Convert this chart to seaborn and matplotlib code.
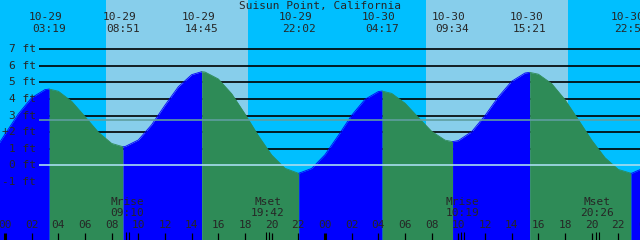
import numpy as np
import pandas as pd
import matplotlib
matplotlib.use("Agg")
import matplotlib.pyplot as plt
import seaborn as sns

# ---------------- data ----------------
title = "Suisun Point, California"

# tide curve (hours from 10-29 00:00, height in ft)
curve_hours = [-0.5, 0, 1, 2, 3, 3.317, 4, 5, 6, 7, 8, 8.85, 9, 10, 11, 12, 13, 14,
               14.75, 15, 16, 17, 18, 19, 20, 21, 22, 22.033, 23, 24, 25, 26, 27, 28,
               28.283, 29, 30, 31, 32, 33, 33.567, 34, 35, 36, 37, 38, 39, 39.35,
               40, 41, 42, 43, 44, 45, 46, 46.95, 47, 48]
curve_heights = [1.26, 1.88, 3.10, 4.08, 4.57, 4.60, 4.47, 3.86, 2.94, 2.00, 1.32, 1.12,
                 1.13, 1.53, 2.45, 3.63, 4.74, 5.47, 5.65, 5.63, 5.21, 4.32, 3.10, 1.79,
                 0.62, -0.18, -0.48, -0.48, -0.19, 0.64, 1.80, 3.02, 3.98, 4.45, 4.48,
                 4.34, 3.75, 2.89, 2.05, 1.52, 1.43, 1.49, 2.03, 3.00, 4.13, 5.07, 5.57,
                 5.61, 5.50, 4.93, 3.96, 2.75, 1.52, 0.46, -0.25, -0.48, -0.48, -0.13]

# tide extremes (labels at top)
ext_dates = ["10-29", "10-29", "10-29", "10-29", "10-30", "10-30", "10-30", "10-30"]
ext_times = ["03:19", "08:51", "14:45", "22:02", "04:17", "09:34", "15:21", "22:57"]

# daylight (sunrise, sunset) per day
sun_days = [29, 30]
sunrise = ["07:35", "07:35"]
sunset = ["18:13", "18:12"]

# moon events
moon_labels = ["Mrise", "Mset", "Mrise", "Mset"]
moon_days = [29, 29, 30, 30]
moon_times = ["09:10", "19:42", "10:19", "20:26"]

# y-axis levels
ft_levels = [7, 6, 5, 4, 3, 2, 1, 0, -1]
mean_level = 2.72

# bottom hour ticks
hour_ticks = list(range(0, 49, 2))
hour_labels = ["%02d" % (h % 24) for h in hour_ticks]

# ---------------- helpers ----------------
def hrs(day, hhmm):
    h, m = hhmm.split(":")
    return (day - 29) * 24 + int(h) + int(m) / 60.0

# pixel <-> data geometry
PX_PER_H = 320 / 24.0
X0 = 5.0
PX_PER_FT = 16.57
Y0 = 165.3
def tx(px):
    return (px - X0) / PX_PER_H
def hy(py):
    return (Y0 - py) / PX_PER_FT

NIGHT = "#00BFFF"
DAY = "#87CEEB"
RISE = "#0000FF"
FALL = "#2E8B57"

ext_hours = [hrs(int(d[3:]), t) for d, t in zip(ext_dates, ext_times)]

# ---------------- figure ----------------
sns.set_style("white")
plt.rcParams["font.family"] = ["DejaVu Sans Mono", "DejaVu Sans"]
fig = plt.figure(figsize=(6.4, 2.4), dpi=100)
ax = fig.add_axes([0, 0, 1, 1])
XMIN, XMAX = tx(0), tx(640)
YMIN, YMAX = hy(240), hy(0)
ax.set_xlim(XMIN, XMAX)
ax.set_ylim(YMIN, YMAX)
ax.set_axis_off()

# background night / day
ax.axvspan(XMIN, XMAX, color=NIGHT, zorder=0, lw=0)
for d, sr, ss in zip(sun_days, sunrise, sunset):
    ax.axvspan(hrs(d, sr), hrs(d, ss), color=DAY, zorder=0.5, lw=0)

# horizontal foot lines
for lv in ft_levels:
    if lv >= 1:
        ax.hlines(lv, tx(39), XMAX, color="black", lw=1.2, zorder=1)

# tide fill
df = pd.DataFrame({"hour": curve_hours, "height": curve_heights})
bounds = [curve_hours[0]] + ext_hours + [curve_hours[-1]]
for a, b in zip(bounds[:-1], bounds[1:]):
    seg = df[(df.hour >= a - 0.01) & (df.hour <= b + 0.01)]
    rising = seg.height.iloc[-1] > seg.height.iloc[0]
    col = RISE if rising else FALL
    ax.fill_between(seg.hour, seg.height, YMIN, color=col, lw=0, zorder=2)
    sns.lineplot(data=seg, x="hour", y="height", color=col, lw=0.6, ax=ax,
                 zorder=2.1, estimator=None, sort=False)

# zero line and mean line
ax.hlines(0, tx(39), XMAX, color="#A8DDF0", lw=1.2, zorder=3)
ax.hlines(mean_level, tx(39), XMAX, color="#5F9EA0", lw=1.2, zorder=3)

FS = 8
# y labels
for lv in ft_levels:
    ax.text(tx(36), lv, "%d ft" % lv, ha="right", va="center", fontsize=FS, zorder=4)
ax.text(tx(5), hy(131), "+", ha="center", va="center", fontsize=FS, zorder=4)

# title
ax.text(tx(320), hy(6), title, ha="center", va="center", fontsize=FS, zorder=4)

# extreme labels
for h, d, t in zip(ext_hours, ext_dates, ext_times):
    ax.text(h - 3.5 / PX_PER_H, hy(17), d, ha="center", va="center", fontsize=FS, zorder=4)
    ax.text(h, hy(28.5), t, ha="center", va="center", fontsize=FS, zorder=4)

# bottom hour ticks
for h, lab in zip(hour_ticks, hour_labels):
    ax.text(h, hy(225), lab, ha="center", va="center", fontsize=FS, zorder=4)
    lw = 2.2 if h % 24 == 0 else 0.9
    ax.vlines(h, YMIN, hy(233), color="black", lw=lw, zorder=4)

# moon events
for lab, d, t in zip(moon_labels, moon_days, moon_times):
    h = hrs(d, t)
    ax.text(h, hy(201.7), lab, ha="center", va="center", fontsize=FS, zorder=4)
    ax.text(h, hy(212.7), t, ha="center", va="center", fontsize=FS, zorder=4)
    for off in (-1.5, 1.5):
        ax.vlines(h + off / PX_PER_H, YMIN, hy(232), color="black", lw=0.8, zorder=4)

fig.savefig("out.png", dpi=100)
